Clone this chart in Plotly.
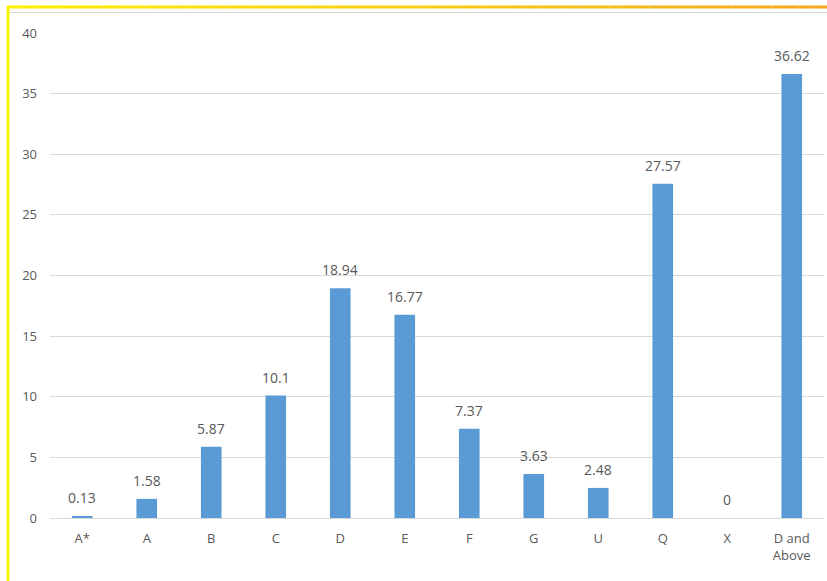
import plotly.graph_objects as go

grades = ["A*", "A", "B", "C", "D", "E", "F", "G", "U", "Q", "X", "D and<br>Above"]
percent = [0.13, 1.58, 5.87, 10.1, 18.94, 16.77, 7.37, 3.63, 2.48, 27.57, 0, 36.62]
value_labels = ["0.13", "1.58", "5.87", "10.1", "18.94", "16.77", "7.37", "3.63", "2.48", "27.57", "0", "36.62"]

W, H = 827, 581
L, R, T, B = 50, 3, 33, 63
pw, ph = W - L - R, H - T - B

def px(x):
    return (x - L) / pw

def py(y):
    return (H - B - y) / ph

fig = go.Figure(go.Bar(
    x=grades, y=percent,
    marker=dict(color="#5B9BD5", line=dict(width=0)),
    width=0.32,
))

# value labels above each bar
annotations = [
    dict(x=g, y=v, xref="x", yref="y", text=t, showarrow=False,
         yanchor="bottom", yshift=7,
         font=dict(family="Open Sans", size=14, color="#595959"))
    for g, v, t in zip(grades, percent, value_labels)
]

shapes = []
# top frame line fading from yellow to orange
n = 60
x0, x1 = 8, W
c0 = (255, 240, 0)
c1 = (245, 168, 30)
for i in range(n):
    t = i / (n - 1)
    col = tuple(int(c0[k] + (c1[k] - c0[k]) * t) for k in range(3))
    xa = x0 + (x1 - x0) * i / n
    xb = x0 + (x1 - x0) * (i + 1) / n
    shapes.append(dict(type="line", xref="paper", yref="paper",
                       x0=px(xa), x1=px(xb), y0=py(7), y1=py(7),
                       line=dict(color="rgb(%d,%d,%d)" % col, width=3)))
# left frame line
shapes.append(dict(type="line", xref="paper", yref="paper",
                   x0=px(8), x1=px(8), y0=py(6), y1=py(H + 2),
                   line=dict(color="#FFF200", width=3)))
# thin grey inner border
shapes.append(dict(type="line", xref="paper", yref="paper",
                   x0=px(10), x1=px(W), y0=py(12.5), y1=py(12.5),
                   line=dict(color="#D9D9D9", width=1)))

fig.update_layout(
    width=W, height=H,
    margin=dict(l=L, r=R, t=T, b=B),
    paper_bgcolor="white", plot_bgcolor="white",
    showlegend=False,
    shapes=shapes,
    annotations=annotations,
    font=dict(family="Open Sans", color="#595959", size=13),
    xaxis=dict(showgrid=False, showline=True, linecolor="#D9D9D9", linewidth=1,
               ticks="", ticklabelstandoff=8,
               tickfont=dict(size=13, color="#595959")),
    yaxis=dict(range=[0, 40], dtick=5, showgrid=True, gridcolor="#D9D9D9",
               gridwidth=1, zeroline=False, showline=False, ticks="",
               ticklabelstandoff=12,
               tickfont=dict(size=13, color="#595959")),
)

fig.write_html("out.html")
